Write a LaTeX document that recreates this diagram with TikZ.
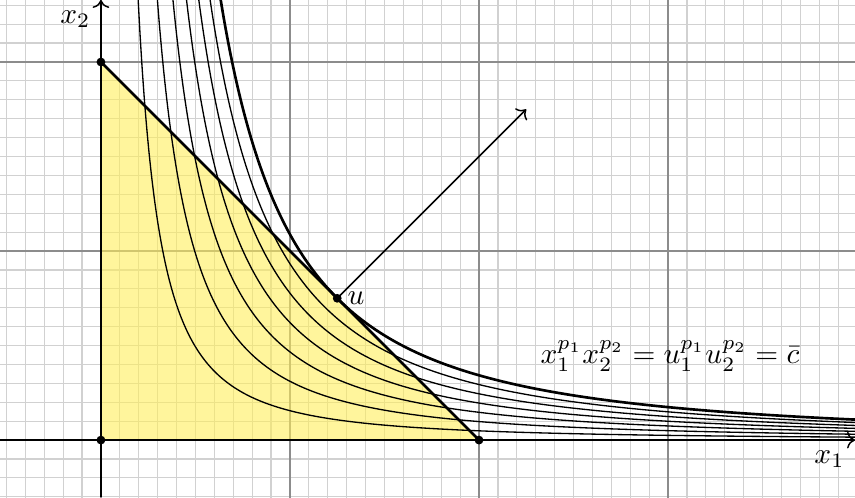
\documentclass[tikz,border=0pt]{standalone}
\usetikzlibrary{arrows.meta}
\definecolor{budgetfill}{RGB}{255,238,90}
\tikzset{
  finegrid/.style={draw=black!18, line width=0.4pt},
  coarsegrid/.style={draw=black!45, line width=0.4pt},
  axis/.style={->, line width=0.5pt},
  indiff/.style={line width=0.45pt},
  indiffmain/.style={line width=0.9pt},
  budget/.style={line width=0.9pt},
  dot/.style={circle, fill=black, inner sep=0pt, minimum size=3pt},
}
\begin{document}
\begin{tikzpicture}[x=2.26cm,y=2.26cm]
\useasboundingbox (-0.534,-0.302) rectangle (3.989,2.328);
\coordinate (o) at (0,0);
\coordinate (a) at (2,0);
\coordinate (b) at (0,2);
\coordinate (u) at (1.25,0.75);
\coordinate (g) at (2.25,1.75);
\coordinate (xs) at (-0.534,0);
\coordinate (xe) at (3.989,0);
\coordinate (ys) at (0,-0.302);
\coordinate (ye) at (0,2.328);
\begin{scope}
  \clip (-0.534,-0.302) rectangle (3.989,2.328);
  \draw[finegrid] (-0.6,-0.4) grid[step=0.1] (4.1,2.4);
  \draw[coarsegrid] (-1,-1) grid[step=1] (4.1,2.4);
\end{scope}
\fill[budgetfill, fill opacity=0.6] (o) -- (a) -- (b) -- cycle;
\pgfmathsetmacro{\K}{0.75*exp(5/3*ln(1.25))}
\begin{scope}
  \clip (-0.534,-0.302) rectangle (3.989,2.328);
  \foreach \j in {1,...,6}{
    \pgfmathsetmacro{\lev}{\j/7*\K}
    \pgfmathsetmacro{\ts}{0.6*ln(\lev/2.4)}
    \draw[indiff] plot[variable=\t, domain=\ts:1.4, samples=220] ({exp(\t)}, {\lev*exp(-5/3*\t)});
  }
  \pgfmathsetmacro{\tm}{0.6*ln(\K/2.4)}
  \draw[indiffmain] plot[variable=\t, domain=\tm:1.4, samples=220] ({exp(\t)}, {\K*exp(-5/3*\t)});
\end{scope}
\draw[axis] (xs) -- (xe) node[below left] (lx1) {$x_1$};
\draw[axis] (ys) -- (ye) node[below left] (lx2) {$x_2$};
\draw[budget] (a) -- (b);
\draw[->, line width=0.5pt] (u) -- (g);
\node[dot] (do) at (o) {};
\node[dot] (da) at (a) {};
\node[dot] (db) at (b) {};
\node[dot] (du) at (u) {};
\node[right] (lu) at (u) {$u$};
\node (eq) at (3.01,0.445) {$x_1^{p_1}x_2^{p_2}=u_1^{p_1}u_2^{p_2}=\bar c$};
\end{tikzpicture}
\end{document}
